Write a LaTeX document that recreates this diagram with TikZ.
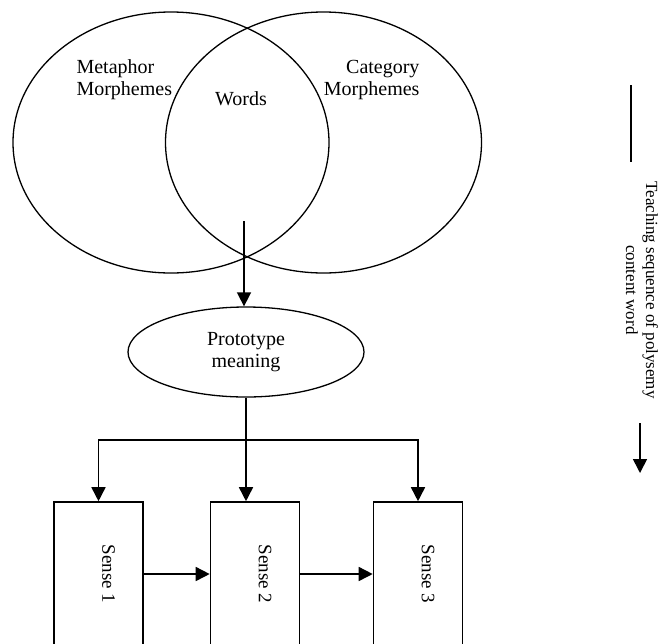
\documentclass[tikz,border=0pt]{standalone}
\usepackage{fontspec}
\setmainfont{Liberation Serif}
\usetikzlibrary{shapes,arrows.meta,positioning,calc}

\begin{document}
\begin{tikzpicture}[
    x=1pt, y=-1pt,
    set/.style={ellipse, draw, line width=1.3pt, minimum width=316pt, minimum height=261pt},
    proto/.style={ellipse, draw, line width=1.3pt, minimum width=236pt, minimum height=90pt, align=center, font=\fontsize{20}{22}\selectfont},
    box/.style={rectangle, draw, line width=1.6pt, minimum width=89pt, minimum height=144pt, inner sep=0pt, font=\fontsize{19}{21}\selectfont},
    lbl/.style={font=\fontsize{20}{22}\selectfont},
    arrow/.style={-{Triangle[length=14pt,width=14pt]}, line width=1.6pt}
]
    \useasboundingbox (0,0) rectangle (668,643);

    % Sets
    \node[set] (leftset) at (171,142.5) {};
    \node[set] (rightset) at (323.5,142.5) {};
    \node[lbl, anchor=west, align=left] (metaphor) at (73,80) {Metaphor\\Morphemes};
    \node[lbl, anchor=east, align=right] (category) at (423,80) {Category\\Morphemes};
    \node[lbl] (words) at (241,99) {Words};
    \coordinate (wordsfoot) at (244,221);

    % Prototype
    \node[proto] (prototype) at (246,352) {Prototype\\meaning};

    % Senses
    \node[box] (sense1) at (98.5,574) {\hspace*{20pt}\rotatebox{-90}{Sense 1}};
    \node[box] (sense2) at (255,574) {\hspace*{20pt}\rotatebox{-90}{Sense 2}};
    \node[box] (sense3) at (418,574) {\hspace*{20pt}\rotatebox{-90}{Sense 3}};
    \coordinate (bus) at (prototype.south |- 0,440);

    % Teaching sequence
    \node[rotate=-90, align=center, font=\fontsize{17}{20}\selectfont] (sequence) at (642,290) {Teaching sequence of polysemy\\content word};
    \coordinate (seqtop) at (631,85);
    \coordinate (seqmid) at (631,162);
    \coordinate (seqarrow) at (640,423);
    \coordinate (seqend) at (640,473);

    % Edges
    \draw[arrow] (wordsfoot) -- (wordsfoot |- prototype.north);
    \draw[line width=1.6pt] (prototype.south) -- (bus);
    \draw[arrow] (bus) -| (sense1.north);
    \draw[arrow] (bus) -| (sense3.north);
    \draw[arrow] (bus) -- (bus |- sense2.north);
    \draw[arrow] (sense1.east) -- (sense2.west);
    \draw[arrow] (sense2.east) -- (sense3.west);
    \draw[line width=1.6pt] (seqtop) -- (seqmid);
    \draw[arrow] (seqarrow) -- (seqend);
\end{tikzpicture}
\end{document}
